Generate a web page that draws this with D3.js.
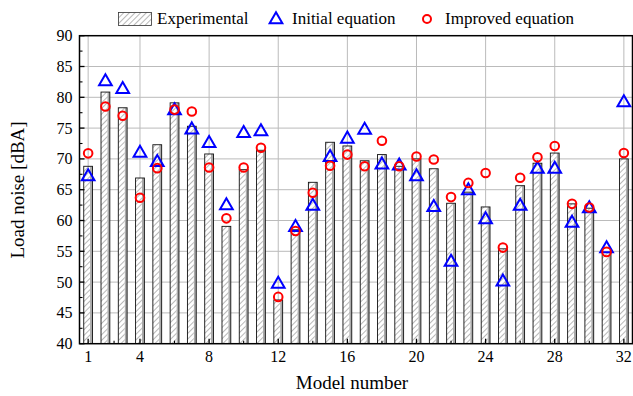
<!DOCTYPE html>
<html><head><meta charset="utf-8">
<script src="https://cdn.jsdelivr.net/npm/d3@7"></script>
<style>body{margin:0;background:#fff}svg{display:block}text{font-family:"Liberation Serif","Times New Roman",serif}</style>
</head><body>
<svg id="c" width="633" height="396"></svg>
<script>
const models = d3.range(1, 33);
const experimental = [68.8,80.85,78.3,66.9,72.3,79.1,75.3,70.8,59.05,68.25,71.4,47.1,58.5,66.2,72.7,72.1,69.7,70.7,68.8,70.0,68.4,62.8,64.6,62.2,55.4,65.65,69.3,70.95,62.7,62.0,54.8,70.0];
const initialEq = [67.3,82.7,81.45,71.1,69.6,78.0,74.9,72.7,62.6,74.3,74.6,49.85,59.05,62.5,70.4,73.4,74.85,69.2,69.05,67.3,62.3,53.4,65.0,60.3,50.2,62.5,68.5,68.5,59.75,62.1,55.6,79.3];
const improvedEq = [70.9,78.5,77.0,63.7,68.5,78.0,77.7,68.6,60.35,68.6,71.8,47.6,58.3,64.5,68.9,70.7,68.8,72.95,68.8,70.4,69.9,63.8,66.1,67.7,55.6,66.95,70.25,72.1,62.7,62.1,54.9,70.95];
const xTicks = [1,4,8,12,16,20,24,28,32];
const yTicks = [40,45,50,55,60,65,70,75,80,85,90];
const legendLabels = ["Experimental","Initial equation","Improved equation"];
const axisTitles = {x:"Model number", y:"Load noise [dBA]"};

const svg = d3.select("#c");
const L=79.5, R=632.5, T=35.7, B=343.7;
const x = d3.scaleLinear().domain([0.5,32.5]).range([L,R]);
const y = d3.scaleLinear().domain([40,90]).range([B,T]);
const bw = 8.8;

const defs = svg.append("defs");
const pat = defs.append("pattern").attr("id","hatch").attr("patternUnits","userSpaceOnUse")
  .attr("width",4).attr("height",4).attr("patternTransform","rotate(45)");
pat.append("rect").attr("width",4).attr("height",4).attr("fill","#fff");
pat.append("line").attr("x1",0).attr("y1",0).attr("x2",0).attr("y2",4).attr("stroke","#333").attr("stroke-width",0.7);
defs.append("clipPath").attr("id","clip").append("rect").attr("x",L).attr("y",T).attr("width",R-L).attr("height",B-T);

// grid
const g = svg.append("g");
g.selectAll("line.hg").data(yTicks.slice(1,-1)).enter().append("line")
  .attr("x1",L).attr("x2",R).attr("y1",d=>y(d)).attr("y2",d=>y(d)).attr("stroke","#bbb").attr("stroke-width",1);
g.selectAll("line.vg").data(xTicks).enter().append("line")
  .attr("y1",T).attr("y2",B).attr("x1",d=>x(d)).attr("x2",d=>x(d)).attr("stroke","#bbb").attr("stroke-width",1);

// bars
const bars = svg.append("g").attr("clip-path","url(#clip)");
bars.selectAll("rect.sh").data(experimental).enter().append("rect")
  .attr("x",(d,i)=>x(models[i])-bw/2+bw-2.5).attr("width",2.5)
  .attr("y",d=>y(d)).attr("height",d=>B-y(d)).attr("fill","#aaa");
bars.selectAll("rect.b").data(experimental).enter().append("rect")
  .attr("x",(d,i)=>x(models[i])-bw/2).attr("width",bw-2.5)
  .attr("y",d=>y(d)).attr("height",d=>B-y(d)).attr("fill","url(#hatch)");
bars.selectAll("rect.o").data(experimental).enter().append("rect")
  .attr("x",(d,i)=>x(models[i])-bw/2).attr("width",bw)
  .attr("y",d=>y(d)).attr("height",d=>B-y(d)).attr("fill","none").attr("stroke","#111").attr("stroke-width",0.9);

// markers
const tri = d3.symbol().type(d3.symbolTriangle).size(70);
const mk = svg.append("g");
mk.selectAll("path.t").data(initialEq).enter().append("path")
  .attr("d",tri).attr("transform",(d,i)=>`translate(${x(models[i])},${y(d)+1})`)
  .attr("fill","none").attr("stroke","#0000ff").attr("stroke-width",2);
mk.selectAll("circle.c").data(improvedEq).enter().append("circle")
  .attr("cx",(d,i)=>x(models[i])).attr("cy",d=>y(d)).attr("r",4.3)
  .attr("fill","none").attr("stroke","#ff0000").attr("stroke-width",2);

// frame
svg.append("rect").attr("x",L).attr("y",T).attr("width",R-L).attr("height",B-T).attr("fill","none").attr("stroke","#000").attr("stroke-width",1.5);

// y axis ticks
const ya = svg.append("g");
const yMinor = d3.range(42.5,90,5);
ya.selectAll("line.M").data(yTicks).enter().append("line").attr("x1",L).attr("x2",L+5).attr("y1",d=>y(d)).attr("y2",d=>y(d)).attr("stroke","#000").attr("stroke-width",1.3);
ya.selectAll("line.m").data(yMinor).enter().append("line").attr("x1",L).attr("x2",L+3).attr("y1",d=>y(d)).attr("y2",d=>y(d)).attr("stroke","#000").attr("stroke-width",1.1);
ya.selectAll("text").data(yTicks).enter().append("text").attr("x",L-7).attr("y",d=>y(d)+5.5)
  .attr("text-anchor","end").attr("font-size",16).text(d=>d);

// x axis ticks
const xa = svg.append("g");
const xMinor = xTicks.slice(0,-1).map((d,i)=>(d+xTicks[i+1])/2);
xa.selectAll("line.M").data(xTicks).enter().append("line").attr("y1",B).attr("y2",B-5).attr("x1",d=>x(d)).attr("x2",d=>x(d)).attr("stroke","#000").attr("stroke-width",1.3);
xa.selectAll("line.m").data(xMinor).enter().append("line").attr("y1",B).attr("y2",B-3).attr("x1",d=>x(d)).attr("x2",d=>x(d)).attr("stroke","#000").attr("stroke-width",1.1);
xa.selectAll("text").data(xTicks).enter().append("text").attr("x",d=>x(d)).attr("y",B+18.5)
  .attr("text-anchor","middle").attr("font-size",16).text(d=>d);

// titles
svg.append("text").attr("x",352).attr("y",389).attr("text-anchor","middle").attr("font-size",19).text(axisTitles.x);
svg.append("text").attr("transform","translate(24,190) rotate(-90)").attr("text-anchor","middle").attr("font-size",19).text(axisTitles.y);

// legend
const lg = svg.append("g");
lg.append("rect").attr("x",118.5).attr("y",12.5).attr("width",33).attr("height",13).attr("fill","url(#hatch)").attr("stroke","#333").attr("stroke-width",0.8);
lg.append("text").attr("x",157).attr("y",24).attr("font-size",17).text(legendLabels[0]);
lg.append("path").attr("d",tri).attr("transform","translate(276,19.5)").attr("fill","none").attr("stroke","#0000ff").attr("stroke-width",2);
lg.append("text").attr("x",292).attr("y",24).attr("font-size",17).text(legendLabels[1]);
lg.append("circle").attr("cx",427).attr("cy",19).attr("r",4).attr("fill","none").attr("stroke","#ff0000").attr("stroke-width",2);
lg.append("text").attr("x",445).attr("y",24).attr("font-size",17).text(legendLabels[2]);
</script>
</body></html>
